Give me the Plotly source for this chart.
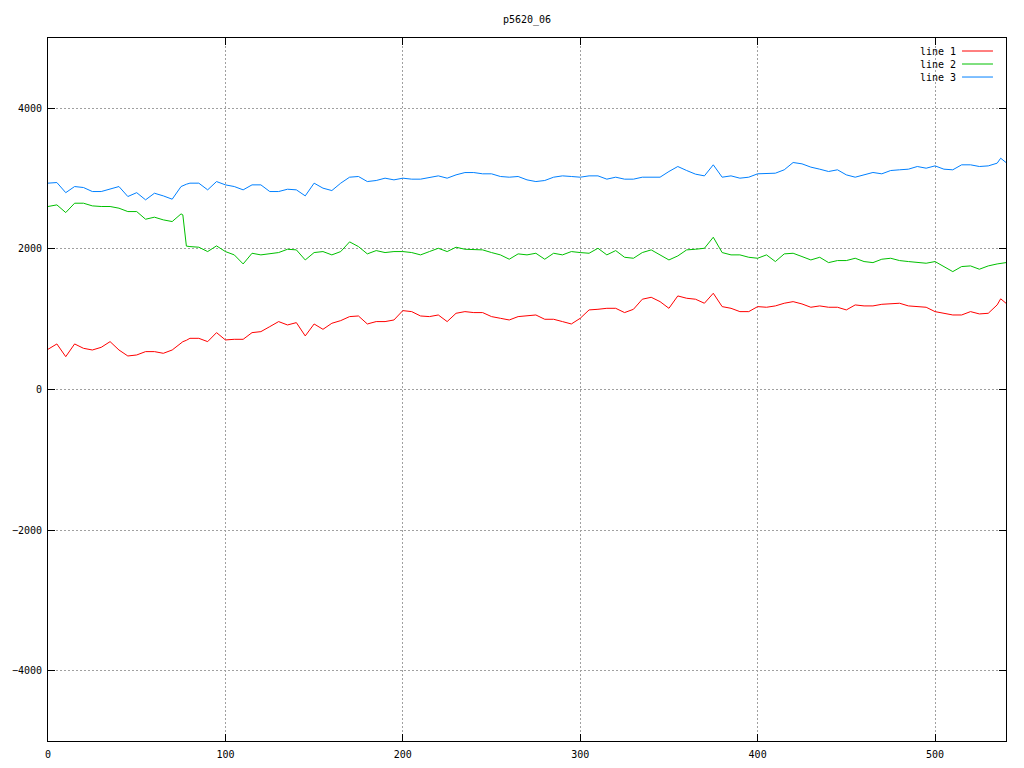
import plotly.graph_objects as go

# ---- data ----
x = [0, 5, 10, 15, 20, 25, 30, 35, 40, 45, 50, 55, 60, 65, 70, 75, 76, 78, 80, 85,
     90, 95, 100, 105, 110, 115, 120, 125, 130, 135, 140, 145, 150, 155, 160, 165,
     170, 175, 180, 185, 190, 195, 200, 205, 210, 215, 220, 225, 230, 235, 240, 245,
     250, 255, 260, 265, 270, 275, 280, 285, 290, 295, 300, 305, 310, 315, 320, 325,
     330, 335, 340, 345, 350, 355, 360, 365, 370, 375, 380, 385, 390, 395, 400, 405,
     410, 415, 420, 425, 430, 435, 440, 445, 450, 455, 460, 465, 470, 475, 480, 485,
     490, 495, 500, 505, 510, 515, 520, 525, 530, 535, 537, 540]

line1 = [572, 648, 467, 648, 586, 562, 600, 681, 562, 477, 491, 539, 539, 515, 562, 667, 680, 700, 728, 728,
         681, 809, 705, 714, 714, 809, 823, 894, 966, 918, 951, 762, 932, 856, 942, 980,
         1037, 1046, 932, 966, 966, 989, 1122, 1108, 1046, 1037, 1060, 966, 1084, 1108, 1094, 1094,
         1037, 1013, 989, 1037, 1046, 1060, 999, 999, 966, 932, 1013, 1132, 1141, 1155, 1155, 1094,
         1141, 1284, 1312, 1250, 1155, 1331, 1298, 1284, 1227, 1369, 1179, 1155, 1108, 1108, 1179, 1170,
         1189, 1227, 1250, 1217, 1170, 1189, 1170, 1170, 1132, 1203, 1189, 1189, 1212, 1217, 1227, 1189,
         1179, 1170, 1108, 1084, 1060, 1060, 1108, 1075, 1084, 1203, 1290, 1227]

line2 = [2603, 2626, 2517, 2650, 2650, 2612, 2603, 2603, 2579, 2531, 2531, 2422, 2451, 2413, 2389, 2498, 2484, 2040, 2033, 2024,
         1962, 2043, 1962, 1915, 1786, 1938, 1915, 1929, 1948, 1995, 1986, 1843, 1948, 1962, 1915, 1962,
         2100, 2033, 1929, 1976, 1948, 1962, 1962, 1948, 1915, 1962, 2009, 1962, 2024, 1995, 1995, 1986,
         1948, 1915, 1853, 1929, 1915, 1938, 1853, 1938, 1915, 1962, 1948, 1938, 2009, 1915, 1976, 1881,
         1867, 1948, 1986, 1915, 1843, 1900, 1986, 1995, 2009, 2166, 1948, 1915, 1915, 1881, 1867, 1915,
         1820, 1929, 1938, 1891, 1843, 1881, 1805, 1834, 1834, 1867, 1820, 1805, 1853, 1867, 1834, 1820,
         1805, 1796, 1820, 1749, 1677, 1749, 1758, 1711, 1758, 1786, 1796, 1805]

line3 = [2935, 2944, 2800, 2887, 2873, 2816, 2816, 2850, 2887, 2745, 2800, 2698, 2792, 2754, 2707, 2887, 2900, 2920, 2935, 2935,
         2840, 2958, 2911, 2887, 2840, 2911, 2911, 2816, 2816, 2849, 2840, 2754, 2935, 2864, 2830, 2935,
         3020, 3030, 2958, 2973, 3006, 2982, 3006, 2992, 2992, 3020, 3039, 3006, 3053, 3086, 3086, 3068,
         3068, 3030, 3020, 3030, 2982, 2958, 2973, 3020, 3039, 3030, 3020, 3039, 3039, 2992, 3020, 2992,
         2992, 3020, 3020, 3020, 3101, 3172, 3115, 3063, 3039, 3196, 3020, 3039, 3006, 3020, 3068, 3077,
         3077, 3125, 3229, 3210, 3163, 3134, 3101, 3125, 3053, 3020, 3053, 3087, 3068, 3115, 3125, 3134,
         3172, 3148, 3181, 3134, 3125, 3196, 3196, 3172, 3181, 3219, 3290, 3229]

series_names = ["line 1", "line 2", "line 3"]
series_values = [line1, line2, line3]
series_colors = ["#ff0000", "#00c000", "#0080ff"]

x_tickvals = [0, 100, 200, 300, 400, 500]
x_ticktext = ["0", "100", "200", "300", "400", "500"]
y_tickvals = [-4000, -2000, 0, 2000, 4000]
y_ticktext = ["\u22124000", "\u22122000", "0", "2000", "4000"]

title_text = "p5620_06"

# ---- figure ----
# The page body has an 8px default margin, so the figure is sized/margined to land
# the plot area at the reference position (48..1006 x 38..741).
FONT = "DejaVu Sans Mono"
W, H = 1008, 752
fig = go.Figure()
for name, vals, col in zip(series_names, series_values, series_colors):
    fig.add_trace(go.Scatter(x=x, y=vals, mode="lines", name=name,
                             line=dict(color=col, width=1), showlegend=False))

# gnuplot-style legend: right-aligned text followed by a line sample
leg_y = [0.9815, 0.963, 0.9445]
for name, col, yy in zip(series_names, series_colors, leg_y):
    fig.add_annotation(x=0.9495, y=yy, xref="paper", yref="paper", text=name,
                       showarrow=False, xanchor="right", yanchor="middle",
                       font=dict(family=FONT, size=10, color="black"))
    fig.add_shape(type="line", xref="paper", yref="paper",
                  x0=0.9541, x1=0.9864, y0=yy, y1=yy,
                  line=dict(color=col, width=1))

axis_common = dict(showline=True, linecolor="black", linewidth=1, mirror="ticks",
                   ticks="inside", ticklen=7, tickcolor="black", tickwidth=1,
                   showgrid=True, gridcolor="#a0a0a0", griddash="2px,2px", gridwidth=1,
                   zeroline=False, automargin=False,
                   tickfont=dict(family=FONT, size=10, color="black"))

fig.update_xaxes(range=[0, 540], tickmode="array", tickvals=x_tickvals,
                 ticktext=x_ticktext, ticklabelstandoff=4, **axis_common)
fig.update_yaxes(range=[-5000, 5000], tickmode="array", tickvals=y_tickvals,
                 ticktext=y_ticktext, ticklabelstandoff=3, **axis_common)

fig.update_layout(
    width=W, height=H,
    margin=dict(l=40, r=10, t=30, b=19, pad=0, autoexpand=False),
    paper_bgcolor="white", plot_bgcolor="white",
    title=dict(text=title_text, x=0.5, xref="paper", xanchor="center",
               y=1 - 11 / H, yref="container", yanchor="middle",
               font=dict(family=FONT, size=10, color="black")),
)

fig.write_html("out.html")
